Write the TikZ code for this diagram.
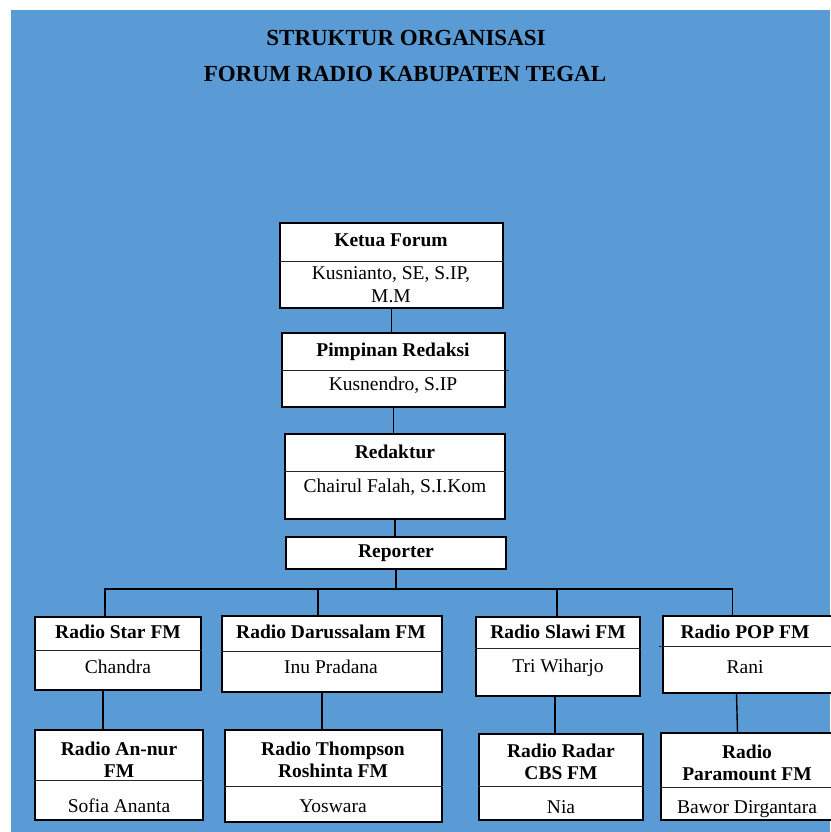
\documentclass[tikz,border=0pt]{standalone}
\usepackage{fontspec}
\setmainfont{Liberation Serif}
\usetikzlibrary{fit}
\definecolor{bgblue}{RGB}{91,155,213}
\begin{document}
\begin{tikzpicture}[x=1pt, y=-1pt,
        orgbox/.style={draw, fill=white, line width=1.6pt, inner sep=0pt, fit={#1}},
        divider/.style={draw=black!85, line width=1pt},
        link/.style={line width=1.4pt},
        posttext/.style={font=\fontsize{19.5}{22}\selectfont\bfseries, align=center, inner sep=0pt},
        persontext/.style={font=\fontsize{19.5}{23}\selectfont, align=center, inner sep=0pt},
        headtext/.style={font=\fontsize{23}{27}\selectfont\bfseries, inner sep=0pt}]
        \useasboundingbox (0,0) rectangle (830,832);
        \fill[bgblue] (11,10) rectangle (830,832);
        \node[headtext] (head1) at (406,38) {STRUKTUR ORGANISASI};
        \node[headtext] (head2) at (405,74) {FORUM RADIO KABUPATEN TEGAL};
        % top of the chart
        \node[orgbox={(280,223) (503,308)}] (ketua) {};
        \draw[divider] (ketua.west |- 0,261) -- (ketua.east |- 0,261);
        \node[posttext] (ketua-p) at (391,240) {Ketua Forum};
        \node[persontext] (ketua-n) at (391,285) {Kusnianto, SE, S.IP,\\M.M};
        \node[orgbox={(282,333) (505,407)}] (pimpinan) {};
        \draw[divider] (pimpinan.west |- 0,370) -- ([xshift=3pt]pimpinan.east |- 0,370);
        \node[posttext] (pimpinan-p) at (393,352) {Pimpinan Redaksi};
        \node[persontext] (pimpinan-n) at (393,385) {Kusnendro, S.IP};
        \node[orgbox={(285,434) (505,519)}] (redaktur) {};
        \draw[divider] (redaktur.west |- 0,471) -- (redaktur.east |- 0,471);
        \node[posttext] (redaktur-p) at (395,452) {Redaktur};
        \node[persontext] (redaktur-n) at (395,487) {Chairul Falah, S.I.Kom};
        \node[orgbox={(286,537) (506,569)}] (reporter) {};
        \node[posttext] (reporter-p) at (396,553) {Reporter};
        % radio stations
        \node[orgbox={(35,617) (201,690)}] (star) {};
        \draw[divider] (star.west |- 0,650) -- (star.east |- 0,650);
        \node[posttext] (star-p) at (118,632) {Radio Star FM};
        \node[persontext] (star-n) at (118,667) {Chandra};
        \node[orgbox={(222,616) (442,692)}] (darussalam) {};
        \draw[divider] (darussalam.west |- 0,651) -- (darussalam.east |- 0,651);
        \node[posttext] (darussalam-p) at (331,632) {Radio Darussalam FM};
        \node[persontext] (darussalam-n) at (331,667) {Inu Pradana};
        \node[orgbox={(476,617) (640,696)}] (slawi) {};
        \draw[divider] (slawi.west |- 0,648) -- (slawi.east |- 0,648);
        \node[posttext] (slawi-p) at (558,632) {Radio Slawi FM};
        \node[persontext] (slawi-n) at (558,668) {Tri Wiharjo};
        \node[orgbox={(663,616) (840,693)}] (pop) {};
        \draw[divider] ([xshift=-3pt]pop.west |- 0,646) -- (pop.east |- 0,646);
        \node[posttext] (pop-p) at (745,632) {Radio POP FM};
        \node[persontext] (pop-n) at (745,667) {Rani};
        \node[orgbox={(35,730) (203,820)}] (annur) {};
        \draw[divider] (annur.west |- 0,780) -- (annur.east |- 0,780);
        \node[posttext] (annur-p) at (119,760) {Radio An-nur\\FM};
        \node[persontext] (annur-n) at (119,806) {Sofia Ananta};
        \node[orgbox={(225,730) (442,822)}] (thompson) {};
        \draw[divider] (thompson.west |- 0,786) -- (thompson.east |- 0,786);
        \node[posttext] (thompson-p) at (333,760) {Radio Thompson\\Roshinta FM};
        \node[persontext] (thompson-n) at (333,806) {Yoswara};
        \node[orgbox={(479,734) (643,820)}] (radar) {};
        \draw[divider] (radar.west |- 0,786) -- (radar.east |- 0,786);
        \node[posttext] (radar-p) at (561,762) {Radio Radar\\CBS FM};
        \node[persontext] (radar-n) at (561,807) {Nia};
        \node[orgbox={(661,733) (840,820)}] (paramount) {};
        \draw[divider] (paramount.west |- 0,787) -- (paramount.east |- 0,787);
        \node[posttext] (paramount-p) at (747,763) {Radio\\Paramount FM};
        \node[persontext] (paramount-n) at (747,809) {Bawor Dirgantara};
        % lines
        \draw[link] (ketua.south) -- (ketua.south |- pimpinan.north);
        \draw[link] (pimpinan.south) -- (pimpinan.south |- redaktur.north);
        \draw[link] (redaktur.south) -- (redaktur.south |- reporter.north);
        \coordinate (bus) at ([yshift=-19pt]reporter.south);
        \draw[link] (reporter.south) -- (bus);
        \draw[link] ([xshift=-13pt]star.north) |- (bus) -| ([xshift=-19pt]pop.north);
        \draw[link] ([xshift=-14pt]darussalam.north) -- ([xshift=-14pt]darussalam.north |- bus);
        \draw[link] ([xshift=-1pt]slawi.north) -- ([xshift=-1pt]slawi.north |- bus);
        \draw[link] ([xshift=-15pt]star.south) -- ([xshift=-15pt]star.south |- annur.north);
        \draw[link] ([xshift=-10pt]darussalam.south) -- ([xshift=-10pt]darussalam.south |- thompson.north);
        \draw[link] ([xshift=-3pt]slawi.south) -- ([xshift=-3pt]slawi.south |- radar.north);
        \draw[link] ([xshift=-15pt]pop.south) -- ([xshift=-14pt]pop.south |- paramount.north);
    \end{tikzpicture}
\end{document}
